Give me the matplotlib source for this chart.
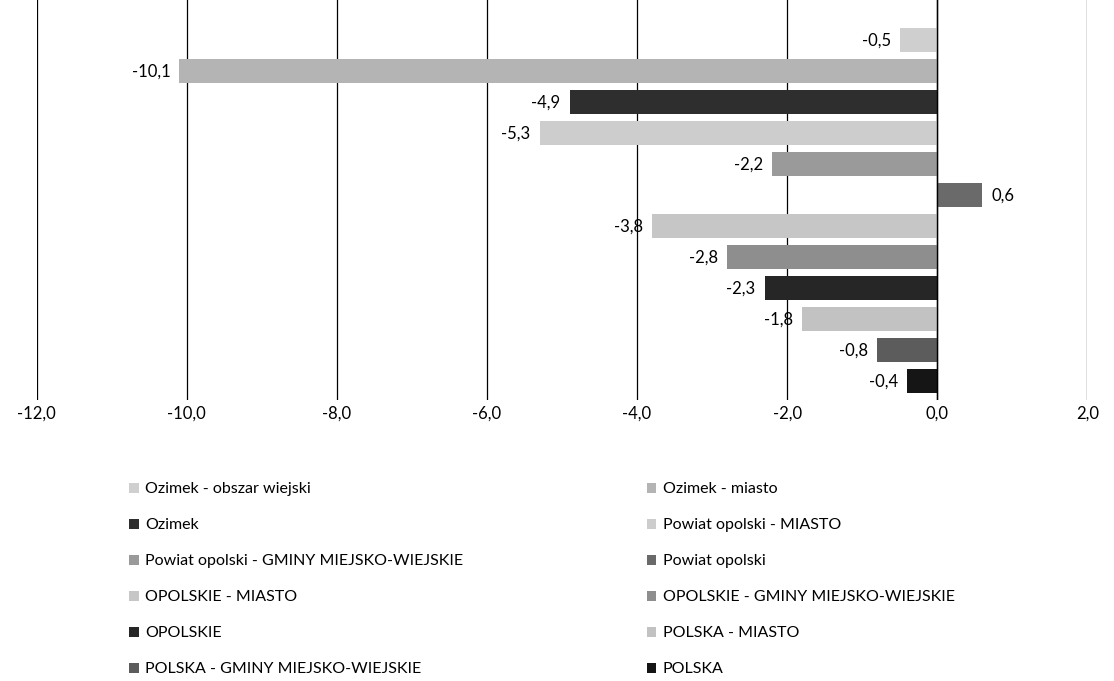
import numpy as np
import matplotlib.pyplot as plt
from matplotlib.patches import Patch

plt.rcParams['font.family'] = ['Lato', 'DejaVu Sans']

#Series (one bar each, top to bottom)
series = ["Ozimek - obszar wiejski", "Ozimek - miasto", "Ozimek",
          "Powiat opolski - MIASTO", "Powiat opolski - GMINY MIEJSKO-WIEJSKIE", "Powiat opolski",
          "OPOLSKIE - MIASTO", "OPOLSKIE - GMINY MIEJSKO-WIEJSKIE", "OPOLSKIE",
          "POLSKA - MIASTO", "POLSKA - GMINY MIEJSKO-WIEJSKIE", "POLSKA"]
values = [-0.5, -10.1, -4.9, -5.3, -2.2, 0.6, -3.8, -2.8, -2.3, -1.8, -0.8, -0.4]
colors = ["#cfcfcf", "#b4b4b4", "#2e2e2e",
          "#cdcdcd", "#9a9a9a", "#6a6a6a",
          "#c6c6c6", "#8e8e8e", "#262626",
          "#c2c2c2", "#5c5c5c", "#151515"]
xticks = [-12, -10, -8, -6, -4, -2, 0, 2]

fig = plt.figure(figsize=(11.14, 6.81), dpi=100)
ax = fig.add_axes([0.033, 0.413, 0.943, 0.587])

pos = np.arange(len(values))
ax.barh(pos, values, height=0.78, color=colors, zorder=3)

#Data labels
for p, v in zip(pos, values):
    txt = ("%.1f" % v).replace(".", ",")
    if v < 0:
        ax.text(v - 0.12, p, txt, ha="right", va="center", fontsize=12)
    else:
        ax.text(v + 0.12, p, txt, ha="left", va="center", fontsize=12)

ax.set_xlim(-12, 2)
ax.set_ylim(11.6, -1.3)
ax.set_xticks(xticks)
ax.set_xticklabels([("%.1f" % t).replace(".", ",") for t in xticks], fontsize=12)
ax.set_yticks([])
ax.grid(axis="x", color="black", linewidth=0.9, zorder=0)
ax.axvline(0, color="black", linewidth=1.0, zorder=4)
for s in ax.spines.values():
    s.set_visible(False)
ax.tick_params(axis="x", length=0, pad=4)

#Legend filled row by row
order = list(range(0, 12, 2)) + list(range(1, 12, 2))
handles = [Patch(facecolor=colors[i], label=series[i]) for i in order]
fig.legend(handles=handles, ncol=2, loc="upper left", bbox_to_anchor=(0.103, 0.313),
           frameon=False, fontsize=11.5, handlelength=0.6, handleheight=0.6,
           handletextpad=0.4, labelspacing=1.38, columnspacing=11.5)

plt.savefig("out.png")
